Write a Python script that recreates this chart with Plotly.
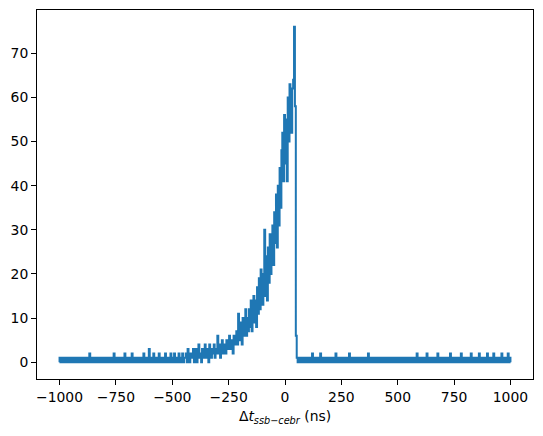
import numpy as np
import plotly.graph_objects as go

# histogram: 4 ns bins from -1000 to 1000 ns
bin_start = -1000
bin_stop = 1000
counts_m1000 = [1,0,1,0,0, 1,0,1,1,0, 0,1,0,0,1, 0,1,0,0,1, 1,0,0,1,0]
counts_m900 = [0,1,0,1,0, 0,1,0,2,0, 1,0,0,1,0, 1,0,0,1,0, 1,1,0,0,1]
counts_m800 = [0,1,0,0,1, 0,1,0,0,1, 2,0,1,0,1, 0,0,1,0,0, 1,0,2,0,1]
counts_m700 = [1,0,0,1,0, 2,0,1,0,1, 0,0,1,1,0, 1,0,0,2,0, 1,0,1,0,3]
counts_m600 = [1,0,1,0,2, 0,1,0,0,1, 2,0,1,0,1, 1,0,2,0,1, 0,1,0,2,1]
counts_m500 = [0,1,2,0,1, 1,0,2,1,0, 1,2,0,1,1, 2,0,3,1,0, 2,1,1,3,0]
counts_m400 = [1,3,0,2,4, 1,2,0,3,1, 2,4,1,3,2, 0,4,2,1,3, 2,4,1,2,3]
counts_m300 = [6,2,4,1,3, 5,2,4,3,2, 5,3,4,6,3, 5,4,2,6,4, 5,7,4,11,5]
counts_m200 = [5,9,4,10,6, 8,12,6,10,7, 12,8,14,7,11, 15,9,14,8,17, 11,19,12,21,14]
counts_m100 = [13,20,30,15,24, 14,26,18,29,20, 25,31,22,34,27, 38,26,40,31,44, 35,48,52,41,56]
counts_p0 = [45,55,41,60,50, 63,57,52,62,64, 76,58,6,1,0, 1,0,0,1,0, 1,0,0,1,0]
counts_p100 = [0,1,0,0,1, 2,0,1,0,1, 0,0,1,0,2, 0,1,0,0,1, 0,1,0,0,1]
counts_p200 = [1,0,0,1,0, 0,2,0,1,0, 1,0,0,1,0, 1,1,0,0,1, 0,2,0,1,0]
counts_p300 = [0,1,0,1,0, 0,1,0,0,1, 1,0,1,0,0, 1,0,2,0,1, 0,1,0,0,1]
counts_p400 = [1,0,0,1,0, 1,0,0,1,0, 0,1,0,1,0, 0,1,0,0,1, 0,1,1,0,0]
counts_p500 = [1,0,1,0,0, 1,0,0,1,0, 1,0,0,1,0, 0,1,0,1,0, 0,2,0,1,0]
counts_p600 = [0,1,0,0,1, 0,1,2,0,1, 0,0,1,0,1, 0,0,1,0,2, 1,0,0,1,0]
counts_p700 = [1,0,1,0,0, 1,0,0,2,0, 1,0,1,0,0, 1,0,0,1,0, 2,0,1,0,1]
counts_p800 = [0,1,0,0,1, 0,2,0,1,0, 0,1,0,1,0, 2,0,1,0,0, 1,0,1,0,2]
counts_p900 = [0,1,0,1,0, 0,2,0,1,0, 1,0,0,1,0, 2,0,1,0,0, 1,0,2,0,1]

x_ticks = [-1000, -750, -500, -250, 0, 250, 500, 750, 1000]
x_tick_labels = ["\u22121000", "\u2212750", "\u2212500", "\u2212250", "0", "250", "500", "750", "1000"]
y_ticks = [0, 10, 20, 30, 40, 50, 60, 70]

counts = (counts_m1000 + counts_m900 + counts_m800 + counts_m700 + counts_m600 +
          counts_m500 + counts_m400 + counts_m300 + counts_m200 + counts_m100 +
          counts_p0 + counts_p100 + counts_p200 + counts_p300 + counts_p400 +
          counts_p500 + counts_p600 + counts_p700 + counts_p800 + counts_p900)
counts = np.array(counts, dtype=float)
edges = np.linspace(bin_start, bin_stop, len(counts) + 1)

# step outline like matplotlib histtype='step'
xs = np.repeat(edges, 2)
ys = np.concatenate([[0], np.repeat(counts, 2), [0]])

font = dict(family="DejaVu Sans", size=13.9, color="black")

fig = go.Figure()
fig.add_trace(go.Scatter(x=xs, y=ys, mode="lines",
                         line=dict(color="#1f77b4", width=2), hoverinfo="skip"))

axis_common = dict(showgrid=False, zeroline=False, showline=True, mirror=True,
                   linecolor="black", linewidth=1.1, ticks="outside",
                   ticklen=4.9, tickwidth=1.1, tickcolor="black", tickfont=font)

fig.update_layout(
    width=543, height=436,
    margin=dict(l=37, r=10, t=10, b=57),
    paper_bgcolor="white", plot_bgcolor="white",
    showlegend=False, font=font,
    xaxis=dict(range=[-1100, 1100], tickvals=x_ticks, ticktext=x_tick_labels,
               title=dict(text="\u0394<i>t</i><sub><i>ssb\u2212cebr</i></sub> (ns)",
                          font=font, standoff=7),
               **axis_common),
    yaxis=dict(range=[-3.8, 79.8], tickvals=y_ticks, **axis_common),
)

fig.write_html("out.html")
